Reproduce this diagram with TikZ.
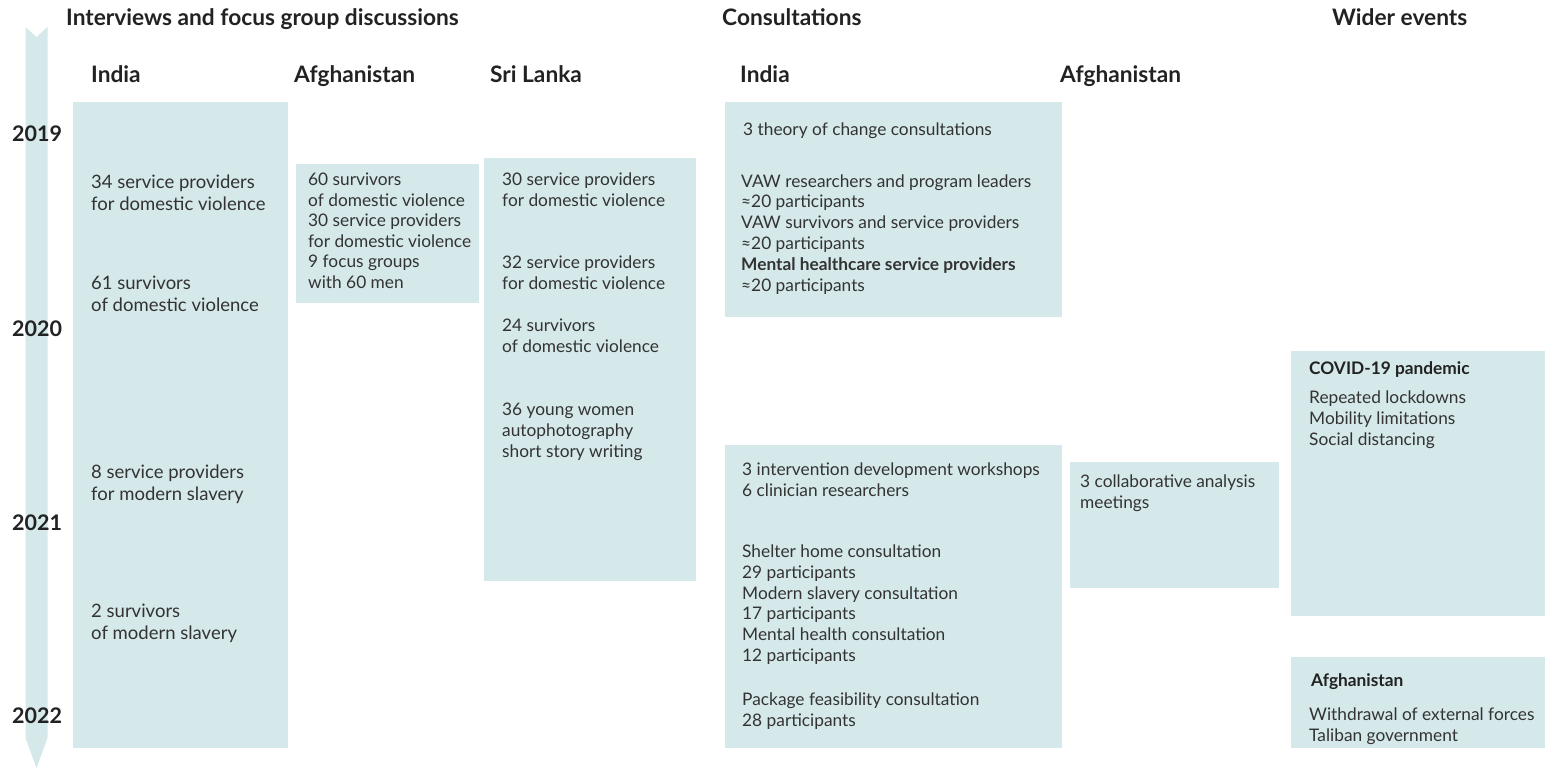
\documentclass[tikz,border=0pt]{standalone}
\usepackage{fontspec}
\setmainfont{Lato}
\definecolor{boxc}{HTML}{D5E8EA}
\definecolor{txt}{HTML}{333333}
\definecolor{hdrc}{HTML}{222222}
\begin{document}
% Multi-line text nodes are anchored at the baseline of their last line.
\begin{tikzpicture}[x=1pt,y=-1pt,
  panel/.style={fill=boxc,draw=none},
  body/.style={font=\fontsize{17.3}{20.8}\selectfont,text=txt,align=left,inner sep=0pt,anchor=base west},
  bigbody/.style={body,font=\fontsize{18.5}{22}\selectfont},
  smallhead/.style={font=\bfseries\fontsize{17.3}{20.8}\selectfont,text=hdrc,inner sep=0pt,anchor=base west},
  head/.style={font=\bfseries\fontsize{22.7}{27}\selectfont,text=hdrc,inner sep=0pt,anchor=base west},
  year/.style={font=\bfseries\fontsize{21.5}{25}\selectfont,text=hdrc,inner sep=0pt,anchor=base west}]
\useasboundingbox (0,0) rectangle (1545,770);

% timeline arrow
\fill[boxc] (25.5,27) -- (36.5,37) -- (47.5,27) -- (47.5,738) -- (36.5,768) -- (25.5,738) -- cycle;

% panels
\path[panel] (73,102) rectangle (288,748);     % interviews, India
\path[panel] (296,164) rectangle (479,303);    % interviews, Afghanistan
\path[panel] (484,158) rectangle (696,581);    % interviews, Sri Lanka
\path[panel] (725,102) rectangle (1062,317);   % consultations, India (early)
\path[panel] (725,445) rectangle (1062,748);   % consultations, India (later)
\path[panel] (1070,462) rectangle (1279,588);  % consultations, Afghanistan
\path[panel] (1291,351) rectangle (1545,616);  % COVID-19
\path[panel] (1291,657) rectangle (1545,748);  % Afghanistan events

% section headings
\node[head] (hInt) at (66,26) {Interviews and focus group discussions};
\node[head] (hCon) at (722,26) {Consultations};
\node[head] (hWid) at (1332,26) {Wider events};
\node[head] (cIndia) at (91,83) {India};
\node[head] (cAfg) at (294,83) {Afghanistan};
\node[head] (cSri) at (490,83) {Sri Lanka};
\node[head] (cIndia2) at (740,83) {India};
\node[head] (cAfg2) at (1060,83) {Afghanistan};

% years
\node[year] (y19) at (12,141.5) {2019};
\node[year] (y20) at (12,336) {2020};
\node[year] (y21) at (12,530) {2021};
\node[year] (y22) at (12,723.5) {2022};

% interviews, India
\node[bigbody] (i1) at (91,210.5) {34 service providers\\for domestic violence};
\node[bigbody] (i2) at (91,311.5) {61 survivors\\of domestic violence};
\node[bigbody] (i3) at (91,500.7) {8 service providers\\for modern slavery};
\node[bigbody] (i4) at (91,639.3) {2 survivors\\of modern slavery};

% interviews, Afghanistan
\node[body,font=\fontsize{17.3}{20.5}\selectfont] (a1) at (308,288.3) {60 survivors\\of domestic violence\\30 service providers\\for domestic violence\\9 focus groups\\with 60 men};

% interviews, Sri Lanka
\node[body] (s1) at (502,206.5) {30 service providers\\for domestic violence};
\node[body] (s2) at (502,289.5) {32 service providers\\for domestic violence};
\node[body] (s3) at (502,352.5) {24 survivors\\of domestic violence};
\node[body] (s4) at (502,457.5) {36 young women\\autophotography\\short story writing};

% consultations, India
\node[body] (k1) at (743,136) {3 theory of change consultations};
\node[body] (k2) at (741,291) {VAW researchers and program leaders\\≈20 participants\\VAW survivors and service providers\\≈20 participants\\\textbf{Mental healthcare service providers}\\≈20 participants};
\node[body] (k3) at (742,496.5) {3 intervention development workshops\\6 clinician researchers};
\node[body] (k4) at (742,661.5) {Shelter home consultation\\29 participants\\Modern slavery consultation\\17 participants\\Mental health consultation\\12 participants};
\node[body] (k5) at (742,726.5) {Package feasibility consultation\\28 participants};

% consultations, Afghanistan
\node[body] (m1) at (1080,508.3) {3 collaborative analysis\\meetings};

% wider events
\node[smallhead] (w1) at (1309,374.3) {COVID-19 pandemic};
\node[body] (w2) at (1309,445) {Repeated lockdowns\\Mobility limitations\\Social distancing};
\node[smallhead] (w3) at (1311,686.7) {Afghanistan};
\node[body] (w4) at (1309,741.5) {Withdrawal of external forces\\Taliban government};
\end{tikzpicture}
\end{document}
